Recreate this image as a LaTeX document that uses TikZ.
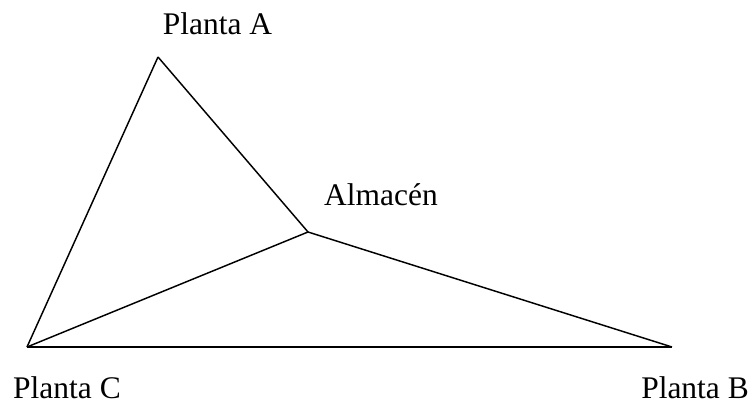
\documentclass[tikz,border=0pt]{standalone}
\usepackage{fontspec}
\setmainfont{Liberation Serif}
\usetikzlibrary{positioning}
\begin{document}
\begin{tikzpicture}[
    x=0.75pt, y=-0.75pt,
    edge/.style={line width=1.1pt},
    lbl/.style={font=\fontsize{23.6}{28}\selectfont, inner sep=0pt, anchor=base}
]
\useasboundingbox (0,0) rectangle (752,403);
% vertices
\coordinate (pa) at (158,57);
\coordinate (alm) at (308,232);
\coordinate (pc) at (27,347);
\coordinate (pb) at (672,347);
% labels
\node[lbl] (la) at (217.5,35) {Planta A};
\node[lbl] (lalm) at (381,205) {Almacén};
\node[lbl] (lc) at (67,398) {Planta C};
\node[lbl] (lb) at (695,398) {Planta B};
% edges
\draw[edge] (pa) -- (pc);
\draw[edge] (pa) -- (alm);
\draw[edge] (alm) -- (pc);
\draw[edge] (alm) -- (pb);
\draw[edge] (pc) -- (pb);
\end{tikzpicture}
\end{document}
